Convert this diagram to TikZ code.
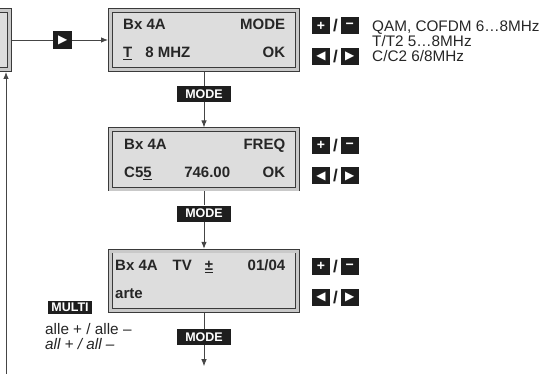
\documentclass[tikz,border=0pt]{standalone}
\usepackage{fontspec}
\setmainfont{Liberation Sans}
\newfontfamily\symfont{DejaVu Sans}
\usetikzlibrary{positioning, arrows.meta, calc}
\definecolor{lcdline}{HTML}{3A3A3A}
\definecolor{lcdband}{HTML}{C9C9C9}
\definecolor{lcdfill}{HTML}{DDDDDD}
\definecolor{keyfill}{HTML}{1E1E1E}
\definecolor{wire}{HTML}{454545}

\begin{document}
\begin{tikzpicture}[x=1pt, y=-1pt,
    lcd/.style={rectangle, draw=lcdline, line width=0.8pt, double=lcdband,
                double distance=3pt, fill=lcdfill, minimum width=187.4pt,
                minimum height=59.4pt, outer sep=2.3pt, inner sep=0pt},
    row/.style={font=\fontsize{15}{18}\selectfont\bfseries, text=black!85,
                anchor=base west, inner sep=0pt},
    key/.style={fill=keyfill, text=white, minimum width=18pt, minimum height=17pt,
                inner sep=0pt, font=\fontsize{14}{14}\selectfont\bfseries},
    modekey/.style={key, minimum width=54pt, minimum height=16pt,
                    font=\fontsize{12.5}{12.5}\selectfont\bfseries},
    slash/.style={font=\fontsize{17}{17}\selectfont\bfseries, text=keyfill,
                  minimum width=10pt, inner sep=0pt},
    tri/.style={font=\fontsize{12}{12}\selectfont\symfont},
    note/.style={font=\fontsize{15.3}{15}\selectfont, text=black!85, align=left,
                 anchor=north west, inner sep=0pt},
    conn/.style={wire, line width=0.8pt},
    arr/.style={conn, -{Latex[length=7pt, width=5.5pt]}}
]
\useasboundingbox (0,0) rectangle (541,374);
\clip (0,0) rectangle (541,374);

% displays and MODE keys
\node[lcd] (d0) at (-84,40) {};
\node[lcd] (d1) at (204,40) {};
\node[modekey, below=14pt of d1] (m1) {MODE};
\node[lcd, below=25pt of m1] (d2) {};
\node[modekey, below=14pt of d2] (m2) {MODE};
\node[lcd, below=27pt of m2] (d3) {};
\node[modekey, below=16pt of d3] (m3) {MODE};
\coordinate[below=21pt of m3] (out);
\node[key, tri, minimum width=19pt, minimum height=18pt, right=41pt of d0] (kfwd) {▶};

% display texts
\node[row] (t1a) at ($(d1.north west)+(15,22)$) {\makebox[162pt][l]{Bx 4A\hfill MODE}};
\node[row] (t1b) at ($(d1.north west)+(15,50)$) {\makebox[162pt][l]{\underline{T}\hspace{13pt}8 MHZ\hfill OK}};
\node[row] (t2a) at ($(d2.north west)+(16,22)$) {\makebox[161pt][l]{Bx 4A\hfill FREQ}};
\node[row] (t2b) at ($(d2.north west)+(16,50)$) {\makebox[161pt][l]{C5\underline{5}\hfill 746.00\hfill OK}};
\node[row] (t3a) at ($(d3.north west)+(7,22)$) {\makebox[170pt][l]{Bx 4A\hspace{15pt}TV\hspace{13pt}\underline{±}\hfill 01/04}};
\node[row] (t3b) at ($(d3.north west)+(7,50)$) {arte};

% keys beside the displays
\foreach \i in {1,2,3} {
  \node[key] (plus\i) at ($(d\i.north east)+(21,18)$) {+};
  \node[slash, right=0pt of plus\i] (sa\i) {/};
  \node[key, right=0pt of sa\i] (minus\i) {−};
  \node[key, tri] (left\i) at ($(d\i.north east)+(21,48.5)$) {◀};
  \node[slash, right=0pt of left\i] (sb\i) {/};
  \node[key, tri, right=0pt of sb\i] (right\i) {▶};
}

\node[note] (modes) at (372,21) {QAM, COFDM 6…8MHz\\T/T2 5…8MHz\\C/C2 6/8MHz};

\node[modekey, minimum width=44pt, minimum height=13pt] (multi) at (70,307.5) {MULTI};
\node[note] (alle) at (45,323) {alle + / alle –\\\textit{all + / all –}};

% connectors
\draw[conn] (d0) -- (kfwd);
\draw[arr] (kfwd) -- (d1);
\draw[conn] (d1) -- (m1);
\draw[arr] (m1) -- (d2);
\draw[conn] (d2) -- (m2);
\draw[arr] (m2) -- (d3);
\draw[conn] (d3) -- (m3);
\draw[arr] (m3) -- (out);
\coordinate (back) at (6,374);
\draw[arr] (back) -- (back |- d0.south);

\end{tikzpicture}
\end{document}
